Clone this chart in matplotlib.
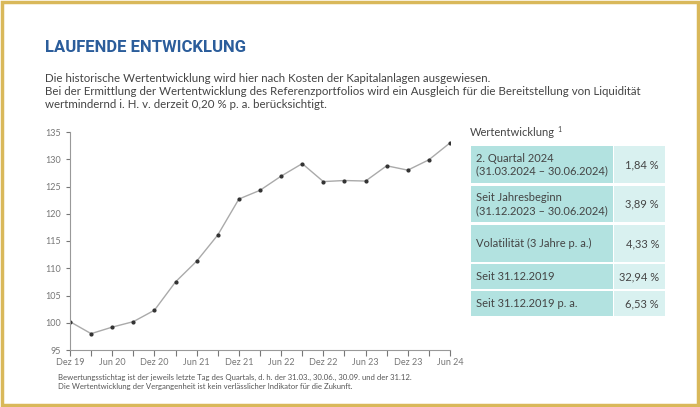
import matplotlib
matplotlib.use("Agg")
import matplotlib.pyplot as plt
from matplotlib.patches import Rectangle

W, H = 700, 407
labels = ["Dez 19","Jun 20","Dez 20","Jun 21","Dez 21","Jun 22","Dez 22","Jun 23","Dez 23","Jun 24"]
values = [100.2, 98.0, 99.2, 100.2, 102.3, 107.5, 111.3, 116.1, 122.7, 124.3,
          126.9, 129.2, 125.9, 126.1, 126.0, 128.8, 128.0, 129.9, 133.0]
table_labels = ["2. Quartal 2024\n(31.03.2024 – 30.06.2024)",
                "Seit Jahresbeginn\n(31.12.2023 – 30.06.2024)",
                "Volatilität (3 Jahre p. a.)",
                "Seit 31.12.2019",
                "Seit 31.12.2019 p. a."]
table_values = ["1,84 %", "3,89 %", "4,33 %", "32,94 %", "6,53 %"]

plt.rcParams["font.family"] = "Lato"
fig = plt.figure(figsize=(W/100, H/100), dpi=100)

def fx(x): return x / W
def fy(y): return 1 - y / H

fig.add_artist(Rectangle((fx(2), fy(405)), fx(696), 403/H, transform=fig.transFigure,
                         fill=False, edgecolor="#d9b85a", linewidth=2.5))

fig.text(fx(45), fy(48), "LAUFENDE ENTWICKLUNG", fontsize=12, fontweight="bold",
         color="#2b5d9b", va="center", family="Roboto")
txt = ("Die historische Wertentwicklung wird hier nach Kosten der Kapitalanlagen ausgewiesen.\n"
       "Bei der Ermittlung der Wertentwicklung des Referenzportfolios wird ein Ausgleich für die Bereitstellung von Liquidität\n"
       "wertmindernd i. H. v. derzeit 0,20 % p. a. berücksichtigt.")
fig.text(fx(45), fy(73), txt, fontsize=8.3, color="#444444", va="top", linespacing=1.25)

ax = fig.add_axes([fx(70), fy(350), fx(450-70), (350-132)/H])
x = list(range(len(values)))
ax.plot(x, values, color="#aaaaaa", lw=1, marker="o", ms=2, mfc="#333333", mec="#333333")
ax.set_ylim(95, 135)
ax.set_xlim(0, len(values) - 1)
ax.set_yticks(range(95, 136, 5))
ax.set_xticks(x)
ax.set_xticklabels([labels[i // 2] if i % 2 == 0 else "" for i in x])
for s in ["top", "right"]:
    ax.spines[s].set_visible(False)
for s in ["left", "bottom"]:
    ax.spines[s].set_color("#999999")
ax.tick_params(axis="both", labelsize=6.5, colors="#777777", length=4, width=0.8)
ax.tick_params(axis="y", length=3)
ax.tick_params(axis="x", pad=2)

fig.text(fx(470), fy(133), "Wertentwicklung", fontsize=8, color="#444444", va="center")
fig.text(fx(557), fy(129), "1", fontsize=5, color="#444444", va="center")
rows = [(146, 183), (186, 222), (225, 262), (264, 289), (291, 316)]
for (t, b), lab, val in zip(rows, table_labels, table_values):
    fig.add_artist(Rectangle((fx(471), fy(b)), fx(613-471), (b - t)/H, transform=fig.transFigure,
                             facecolor="#b2e2e0", edgecolor="none"))
    fig.add_artist(Rectangle((fx(614), fy(b)), fx(665-614), (b - t)/H, transform=fig.transFigure,
                             facecolor="#d9f1f0", edgecolor="none"))
    fig.text(fx(476), fy((t + b) / 2), lab, fontsize=8, color="#444444", va="center", linespacing=1.2)
    fig.text(fx(659), fy((t + b) / 2), val, fontsize=8, color="#444444", va="center", ha="right")

foot = ("Bewertungsstichtag ist der jeweils letzte Tag des Quartals, d. h. der 31.03., 30.06., 30.09. und der 31.12.\n"
        "Die Wertentwicklung der Vergangenheit ist kein verlässlicher Indikator für die Zukunft.")
fig.text(fx(58), fy(374), foot, fontsize=5.6, color="#555555", va="top", linespacing=1.4)

fig.savefig("out.png", dpi=100)
